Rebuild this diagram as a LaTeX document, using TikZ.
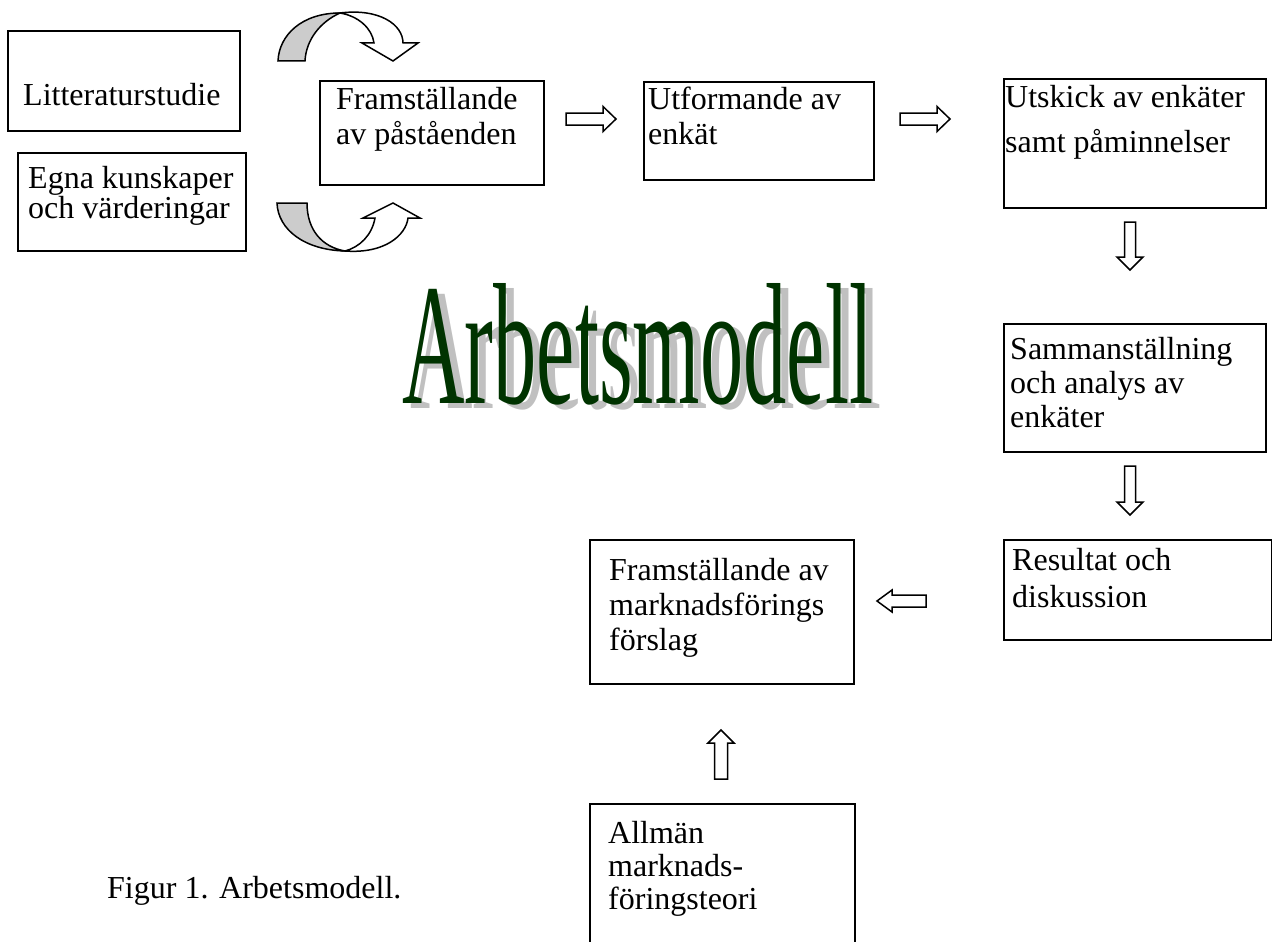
\documentclass[tikz,border=0pt]{standalone}
\usepackage{fontspec}
\setmainfont{Liberation Serif}
\usepackage{graphicx}
\definecolor{titlegreen}{HTML}{003300}
\definecolor{shadowgrey}{HTML}{C0C0C0}
\definecolor{ribbongrey}{HTML}{CCCCCC}
\newcommand\mlines[1]{\vtop{\halign{##\hfil\cr#1\crcr}}}
\tikzset{
  box/.style={draw, line width=2pt, anchor=north west, inner sep=0pt},
  txt/.style={anchor=base west, inner sep=0pt, font=\fontsize{32}{35}\selectfont},
  arrowline/.style={draw, fill=white, line width=1.5pt, line join=miter},
  pics/barrow/.style args={#1/#2/#3/#4}{code={
    \path[arrowline] (0,-#2) -- (#1-#4,-#2) -- (#1-#4,-#3) -- (#1,0) -- (#1-#4,#3) -- (#1-#4,#2) -- (0,#2) -- cycle;}},
}
\begin{document}
\begin{tikzpicture}[x=1pt,y=-1pt]
\useasboundingbox (0,0) rectangle (1272,942);
% boxes
\node[box, minimum width=232pt, minimum height=100pt] (b1) at (7,30) {};
\node[box, minimum width=228pt, minimum height=98pt] (b2) at (17,152) {};
\node[box, minimum width=224pt, minimum height=104pt] (b3) at (319,80) {};
\node[box, minimum width=230pt, minimum height=98pt] (b4) at (643,81) {};
\node[box, minimum width=262pt, minimum height=129pt] (b5) at (1003,78) {};
\node[box, minimum width=262pt, minimum height=128pt] (b6) at (1003,323) {};
\node[box, minimum width=268pt, minimum height=100pt] (b7) at (1003,539) {};
\node[box, minimum width=264pt, minimum height=144pt] (b8) at (589,539) {};
\node[box, minimum width=265pt, minimum height=200pt] (b9) at (589,803) {};
% texts
\node[txt] (t1) at (23,106) {Litteraturstudie};
\node[txt, font=\fontsize{32}{29}\selectfont] (t2) at (28,188) {\mlines{Egna kunskaper\cr och värderingar}};
\node[txt] (t3) at (336,110) {\mlines{Framställande\cr av påståenden}};
\node[txt] (t4) at (648,110) {\mlines{Utformande av\cr enkät}};
\node[txt, font=\fontsize{32}{45}\selectfont] (t5) at (1005,107) {\mlines{Utskick av enkäter\cr samt påminnelser}};
\node[txt, font=\fontsize{32}{34}\selectfont] (t6) at (1010,359) {\mlines{Sammanställning\cr och analys av\cr enkäter}};
\node[txt, font=\fontsize{32}{37}\selectfont] (t7) at (1012,570) {\mlines{Resultat och\cr diskussion}};
\node[txt] (t8) at (609,580) {\mlines{Framställande av\cr marknadsförings\cr förslag}};
\node[txt, font=\fontsize{32}{33}\selectfont] (t9) at (608,843) {\mlines{Allmän\cr marknads-\cr föringsteori}};
\node[txt] (cap) at (107,898) {Figur 1. Arbetsmodell.};
% title
\node[anchor=base west, inner sep=0pt, text=shadowgrey] (titleshadow) at (410,408)
  {\scalebox{0.5}[1]{\fontsize{173}{173}\selectfont Arbetsmodell}};
\node[anchor=base west, inner sep=0pt, text=titlegreen] (title) at (402,403)
  {\scalebox{0.5}[1]{\fontsize{173}{173}\selectfont Arbetsmodell}};
% block arrows
\pic at (566,119) {barrow=50/6/12.5/13};
\pic at (900,119) {barrow=50/6/12.5/13};
\pic[rotate=-90] at (1130,222) {barrow=48/5.5/13/13};
\pic[rotate=-90] at (1130,466) {barrow=49/5.5/13/13};
\pic[rotate=180] at (926,601) {barrow=49/6/11/15};
\pic[rotate=90] at (721,779) {barrow=49/6.5/13/13};
% curved arrows
\path[draw, fill=ribbongrey, line width=1.5pt]
  (278,61) .. controls (279,35) and (302,13) .. (340,13)
  .. controls (320,22) and (306,40) .. (305,61) -- cycle;
\path[arrowline]
  (340,13) .. controls (380,8) and (403,25) .. (403,43) -- (418,43) -- (393,61) -- (362,43) -- (374,43)
  .. controls (372,28) and (358,16) .. (340,13) -- cycle;
\path[draw, fill=ribbongrey, line width=1.5pt]
  (277,203) -- (307,203) .. controls (307,230) and (322,247) .. (345,251)
  .. controls (305,250) and (278,230) .. (277,203) -- cycle;
\path[arrowline]
  (345,251) .. controls (385,254) and (406,235) .. (408,218) -- (420,218) -- (393,203) -- (363,218) -- (375,218)
  .. controls (372,235) and (360,247) .. (345,251) -- cycle;
\end{tikzpicture}
\end{document}
